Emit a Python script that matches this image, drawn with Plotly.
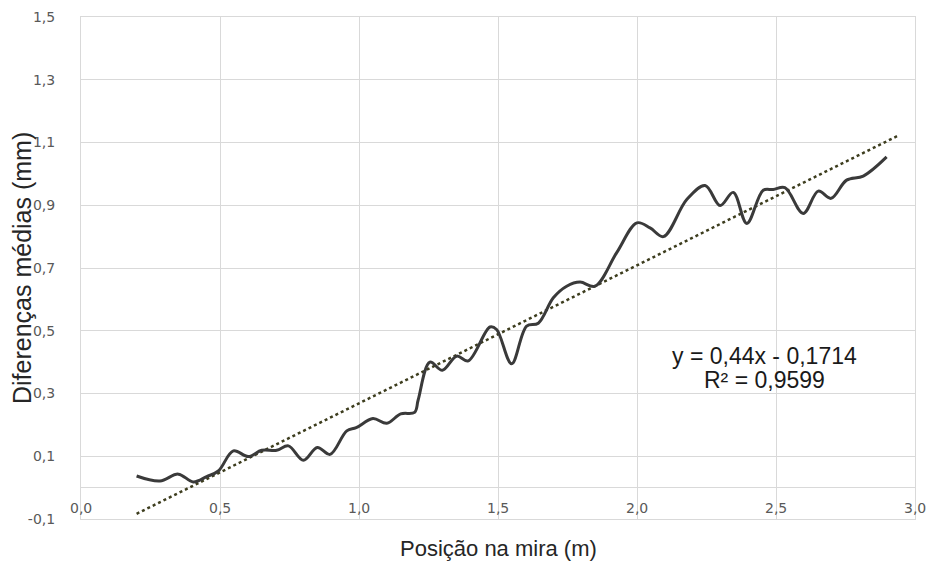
import plotly.graph_objects as go

# Measured curve (x in m, y in mm)
pos_x = [0.20, 0.284, 0.35, 0.404, 0.452, 0.494, 0.548, 0.602, 0.65, 0.704, 0.746,
         0.80, 0.85, 0.896, 0.956, 0.99, 1.05, 1.10, 1.15, 1.20, 1.213, 1.255, 1.30,
         1.351, 1.393, 1.471, 1.495, 1.549, 1.603, 1.645, 1.699, 1.747, 1.795, 1.849,
         1.927, 2.00, 2.047, 2.095, 2.179, 2.245, 2.299, 2.346, 2.395, 2.454, 2.49,
         2.532, 2.598, 2.652, 2.698, 2.754, 2.814, 2.898]
dif_y = [0.037, 0.021, 0.043, 0.018, 0.035, 0.053, 0.117, 0.099, 0.119, 0.119, 0.133,
         0.087, 0.128, 0.106, 0.181, 0.191, 0.22, 0.205, 0.235, 0.24, 0.28, 0.40, 0.374,
         0.419, 0.404, 0.512, 0.504, 0.395, 0.515, 0.524, 0.605, 0.642, 0.655, 0.642,
         0.749, 0.844, 0.828, 0.80, 0.918, 0.963, 0.899, 0.941, 0.842, 0.948, 0.95,
         0.956, 0.874, 0.945, 0.922, 0.98, 0.993, 1.054]

# Linear trendline y = 0.44x - 0.1714
trend_slope = 0.44
trend_intercept = -0.1714
trend_x = [0.20, 2.94]
trend_y = [trend_slope * v + trend_intercept for v in trend_x]

x_ticks = [0.0, 0.5, 1.0, 1.5, 2.0, 2.5, 3.0]
x_tick_labels = ["0,0", "0,5", "1,0", "1,5", "2,0", "2,5", "3,0"]
y_ticks = [-0.1, 0.1, 0.3, 0.5, 0.7, 0.9, 1.1, 1.3, 1.5]
y_tick_labels = ["-0,1", "0,1", "0,3", "0,5", "0,7", "0,9", "1,1", "1,3", "1,5"]

x_title = "Posição na mira (m)"
y_title = "Diferenças médias (mm)"
equation_lines = ["y = 0,44x - 0,1714", "R² = 0,9599"]

tick_font = dict(family="DejaVu Sans, Verdana", size=14, color="#595959")
label_font = dict(family="Liberation Sans, Arial", size=22, color="#262626")
ylabel_font = dict(family="Liberation Sans, Arial", size=25, color="#262626")
eq_font = dict(family="Liberation Sans, Arial", size=23, color="#1a1a1a")

fig = go.Figure()
fig.add_trace(go.Scatter(x=trend_x, y=trend_y, mode="lines",
                         line=dict(color="#3d3d1e", width=2.5, dash="dot"),
                         showlegend=False, hoverinfo="skip"))
fig.add_trace(go.Scatter(x=pos_x, y=dif_y, mode="lines",
                         line=dict(color="#3a3a3a", width=3, shape="spline", smoothing=1.0),
                         showlegend=False))

# x tick labels drawn just above the bottom of the plot area (Excel "low" labels)
for v, t in zip(x_ticks, x_tick_labels):
    fig.add_annotation(x=v, y=-0.1, xref="x", yref="y", text=t, showarrow=False,
                       yanchor="bottom", yshift=1, font=tick_font)

fig.add_annotation(x=2.46, y=0.42, xref="x", yref="y", text=equation_lines[0],
                   showarrow=False, font=eq_font)
fig.add_annotation(x=2.46, y=0.342, xref="x", yref="y", text=equation_lines[1],
                   showarrow=False, font=eq_font)

# axis titles
fig.add_annotation(x=0.5, y=-0.058, xref="paper", yref="paper", text=x_title,
                   showarrow=False, yanchor="middle", font=label_font)
fig.add_annotation(x=-0.0707, y=0.5, xref="paper", yref="paper", text=y_title,
                   showarrow=False, textangle=-90, xanchor="center", yanchor="middle",
                   font=ylabel_font)

grid = "#d9d9d9"
fig.update_layout(
    width=928, height=562,
    margin=dict(l=81, r=13, t=17, b=43),
    paper_bgcolor="white", plot_bgcolor="white",
    xaxis=dict(range=[0, 3], tickvals=x_ticks, showticklabels=False, ticks="",
               showgrid=True, gridcolor=grid, gridwidth=1, automargin=False,
               showline=True, linecolor=grid, mirror=True, zeroline=False),
    yaxis=dict(range=[-0.1, 1.5], tickvals=y_ticks, ticktext=y_tick_labels,
               showgrid=True, gridcolor=grid, gridwidth=1, automargin=False,
               showline=True, linecolor=grid, mirror=True,
               zeroline=True, zerolinecolor=grid, zerolinewidth=1,
               ticks="", ticklabelstandoff=22, tickfont=tick_font),
)

fig.write_html("out.html", config={"displayModeBar": False},
               post_script="document.body.style.margin='0';")
